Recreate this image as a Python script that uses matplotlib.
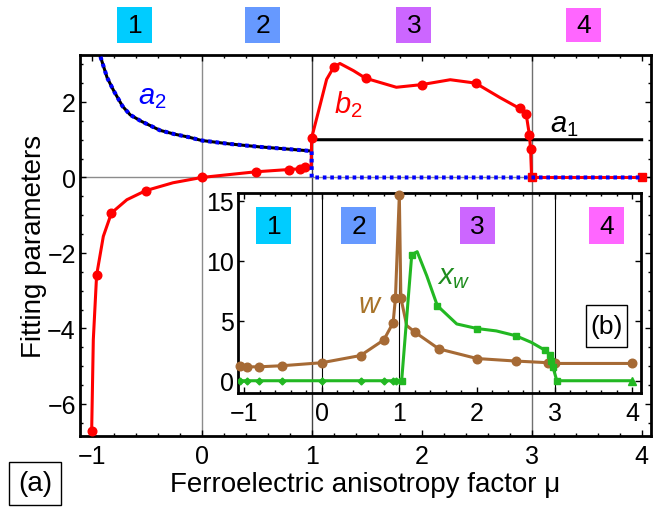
import matplotlib
matplotlib.use("Agg")
import matplotlib.pyplot as plt
import matplotlib.transforms as mtransforms
from matplotlib.patches import Rectangle
from matplotlib.ticker import MultipleLocator

plt.rcParams['font.family'] = ['Liberation Sans', 'DejaVu Sans']
plt.rcParams['mathtext.fontset'] = 'custom'
plt.rcParams['mathtext.rm'] = 'Liberation Sans'
plt.rcParams['mathtext.it'] = 'Liberation Sans:italic'

# ---- main panel (a) data ----
a2_mu = [-0.92, -0.86, -0.8, -0.72, -0.65, -0.55, -0.45, -0.38, -0.25, -0.12,
         0.0, 0.25, 0.53, 0.75, 1.0]
a2_val = [3.2, 2.65, 2.3, 1.89, 1.66, 1.49, 1.35, 1.25, 1.15, 1.07,
          0.98, 0.89, 0.81, 0.76, 0.70]
a2_tail_mu = [1.0, 1.0, 4.0]
a2_tail_val = [0.70, 0.0, 0.0]
a1_tail_mu = [1.0, 1.0, 4.0]
a1_tail_val = [0.70, 1.0, 1.0]

b2_line_mu = [-1.0, -0.985, -0.955, -0.894, -0.82, -0.68, -0.51, -0.26, 0.0, 0.49,
              0.79, 0.89, 0.94, 0.995, 1.0, 1.075, 1.136, 1.2, 1.257, 1.38,
              1.49, 1.77, 2.0, 2.26, 2.49, 2.71, 2.89, 2.95, 2.98, 2.99, 3.0, 4.0]
b2_line_val = [-6.72, -4.3, -2.59, -1.56, -0.94, -0.59, -0.35, -0.14, 0.0, 0.15,
               0.21, 0.23, 0.27, 0.3, 1.05, 1.9, 2.6, 2.92, 3.02, 2.83,
               2.63, 2.39, 2.46, 2.59, 2.50, 2.12, 1.83, 1.68, 1.12, 0.75, 0.0, 0.0]
b2_dot_mu = [-1.0, -0.955, -0.82, -0.51, 0.0, 0.49, 0.79, 0.89, 0.94, 1.0,
             1.2, 1.49, 2.0, 2.49, 2.89, 2.95, 2.98, 2.99]
b2_dot_val = [-6.72, -2.59, -0.94, -0.35, 0.0, 0.15, 0.21, 0.23, 0.27, 1.05,
              2.92, 2.63, 2.46, 2.50, 1.83, 1.68, 1.12, 0.75]
b2_sq_mu = [3.0, 4.0]
b2_sq_val = [0.0, 0.0]

# ---- inset (b) data ----
w_line_mu = [-1.05, -0.96, -0.81, -0.51, 0.0, 0.5, 0.8, 0.92, 0.95, 1.0,
             1.02, 1.095, 1.2, 1.51, 2.0, 2.5, 2.92, 3.0, 4.0]
w_line_val = [1.25, 1.16, 1.16, 1.25, 1.5, 2.1, 3.4, 4.83, 6.9, 15.5,
              6.9, 4.6, 4.05, 2.65, 1.85, 1.64, 1.5, 1.44, 1.44]
w_dot_mu = [-1.05, -0.96, -0.81, -0.51, 0.0, 0.5, 0.8, 0.92, 0.95, 1.0,
            1.02, 1.2, 1.51, 2.0, 2.5, 2.92, 3.0, 4.0]
w_dot_val = [1.25, 1.16, 1.16, 1.25, 1.5, 2.1, 3.4, 4.83, 6.9, 15.5,
             6.9, 4.05, 2.65, 1.85, 1.64, 1.5, 1.44, 1.44]

xw_line_mu = [-1.05, -0.96, -0.81, -0.51, 0.0, 0.5, 0.8, 0.92, 0.96, 1.03,
              1.16, 1.23, 1.353, 1.49, 1.74, 2.0, 2.25, 2.5, 2.7, 2.88,
              2.94, 2.96, 2.98, 3.03, 4.0]
xw_line_val = [0, 0, 0, 0, 0, 0, 0, 0, 0, 0,
               10.5, 10.75, 8.75, 6.25, 4.73, 4.35, 4.15, 3.75, 3.2, 2.53,
               2.17, 1.67, 1.12, 0.0, 0.0]
xw_dia_mu = [-1.05, -0.96, -0.81, -0.51, 0.0, 0.5, 0.8, 0.92, 0.96]
xw_dia_val = [0, 0, 0, 0, 0, 0, 0, 0, 0]
xw_sq_mu = [1.03, 1.16, 1.49, 2.0, 2.5, 2.88, 2.94, 2.96, 2.98, 3.03]
xw_sq_val = [0.0, 10.5, 6.25, 4.35, 3.75, 2.53, 2.17, 1.67, 1.12, 0.0]
xw_tri_mu = [4.0]
xw_tri_val = [0.0]

region_labels = ["1", "2", "3", "4"]
region_colors = ["#00CCFF", "#6699FF", "#CC66FF", "#FF66FF"]
region_mu_main = [-0.606, 0.556, 1.93, 3.47]
region_mu_inset = [-0.617, 0.474, 2.008, 3.67]

RED = "#FF0000"
BLUE = "#0000FF"
BROWN = "#A66A35"
GREEN = "#22B822"

fig = plt.figure(figsize=(6.61, 5.10), dpi=100)
fig.patch.set_facecolor("white")


def region_box(ax, x, y, text, color, w=0.35, h=0.36, fs=19, edge="none", lw=0):
    trans = fig.dpi_scale_trans + mtransforms.ScaledTranslation(x, y, ax.transData)
    r = Rectangle((-w / 2, -h / 2), w, h, transform=trans, facecolor=color,
                  edgecolor=edge, linewidth=lw, clip_on=False, zorder=6)
    ax.add_artist(r)
    ax.text(x, y, text, ha="center", va="center", fontsize=fs, zorder=7,
            clip_on=False)


def style_axes(ax, lab_pad_x, lab_pad_y):
    for s in ax.spines.values():
        s.set_linewidth(2.0)
    ax.tick_params(which="both", direction="in", top=True, right=True,
                   width=1.0, colors="black")
    ax.tick_params(which="major", length=4)
    ax.tick_params(which="minor", length=2.5)
    ax.tick_params(axis="x", which="major", labelsize=18, pad=lab_pad_x)
    ax.tick_params(axis="y", which="major", labelsize=18, pad=lab_pad_y)


# ---------------- main panel ----------------
ax = fig.add_axes([80 / 661, (510 - 437) / 510, 571 / 661, 381 / 510])
ax.set_xlim(-1.106, 4.085)
ax.set_ylim(-6.85, 3.245)

ax.axvline(0, color="#8c8c8c", lw=1.0, zorder=1)
ax.axvline(1, color="#444444", lw=1.0, zorder=1)
ax.axvline(3, color="#707070", lw=1.0, zorder=1)
ax.axhline(0, color="#8c8c8c", lw=1.0, zorder=1)

ax.plot(a2_mu + a1_tail_mu, a2_val + a1_tail_val, color="black", lw=2.2, zorder=2)
ax.plot(b2_line_mu, b2_line_val, color=RED, lw=2.2, zorder=3)
ax.plot(b2_dot_mu, b2_dot_val, "o", color=RED, ms=6.2, zorder=3, clip_on=False)
ax.plot(b2_sq_mu, b2_sq_val, "s", color=RED, ms=6, zorder=3, clip_on=False)
ax.plot(a2_mu + a2_tail_mu, a2_val + a2_tail_val, color=BLUE, lw=2.9,
        linestyle=(0, (0.9, 0.95)), zorder=4)

ax.text(-0.45, 2.17, r"$a_{\mathit{2}}$", color=BLUE, fontsize=21, ha="center", va="center")
ax.text(1.333, 1.95, r"$b_{\mathit{2}}$", color=RED, fontsize=21, ha="center", va="center")
ax.text(3.30, 1.42, r"$a_{\mathit{1}}$", color="black", fontsize=21, ha="center", va="center")

ax.set_xticks([-1, 0, 1, 2, 3, 4])
ax.set_yticks([-6, -4, -2, 0, 2])
ax.xaxis.set_minor_locator(MultipleLocator(0.2))
ax.yaxis.set_minor_locator(MultipleLocator(0.5))
style_axes(ax, 6, 3)
ax.set_xlabel("Ferroelectric anisotropy factor μ", fontsize=20, labelpad=2)
ax.set_ylabel("Fitting parameters", fontsize=20, labelpad=0)

for lab, col, mu in zip(region_labels, region_colors, region_mu_main):
    h = 0.34 if lab == "4" else 0.36
    region_box(ax, mu, 4.04, lab, col, h=h)

# ---------------- inset ----------------
ins = fig.add_axes([238 / 661, (510 - 393.5) / 510, 402.5 / 661, 200 / 510])
ins.set_facecolor("none")
ins.set_xlim(-1.079, 4.108)
ins.set_ylim(-0.98, 15.68)
for xv in (0, 1, 3):
    ins.axvline(xv, color="black", lw=0.8, zorder=1)

ins.plot(w_line_mu, w_line_val, color=BROWN, lw=2.2, zorder=3)
ins.plot(w_dot_mu, w_dot_val, "o", color=BROWN, ms=6.2, zorder=3, clip_on=False)
ins.plot(xw_line_mu, xw_line_val, color=GREEN, lw=2.2, zorder=4)
ins.plot(xw_dia_mu, xw_dia_val, "D", color=GREEN, ms=3.5, zorder=4)
ins.plot(xw_sq_mu, xw_sq_val, "s", color=GREEN, ms=5, zorder=4)
ins.plot(xw_tri_mu, xw_tri_val, "^", color=GREEN, ms=5.5, zorder=4, clip_on=False)

ins.text(0.62, 6.39, r"$w$", color="#A8742A", fontsize=21, ha="center", va="center")
ins.text(1.705, 8.7, r"$x_{w}$", color="#1E8C1E", fontsize=21, ha="center", va="center")

ins.set_xticks([-1, 0, 1, 2, 3, 4])
ins.set_yticks([0, 5, 10, 15])
ins.xaxis.set_minor_locator(MultipleLocator(0.2))
style_axes(ins, 6, 3)

for lab, col, mu in zip(region_labels, region_colors, region_mu_inset):
    region_box(ins, mu, 12.93, lab, col, h=0.37)
region_box(ins, 3.67, 4.56, "(b)", "white", w=0.41, h=0.42, edge="black", lw=1.0)

# ---------------- (a) tag ----------------
fig.add_artist(Rectangle((0.09, 0.04), 0.52, 0.43, transform=fig.dpi_scale_trans,
                         facecolor="white", edgecolor="black", linewidth=1.0))
fig.text(0.35 / 6.61, 0.255 / 5.10, "(a)", fontsize=20, ha="center", va="center")

fig.savefig("out.png", dpi=100, facecolor="white")
